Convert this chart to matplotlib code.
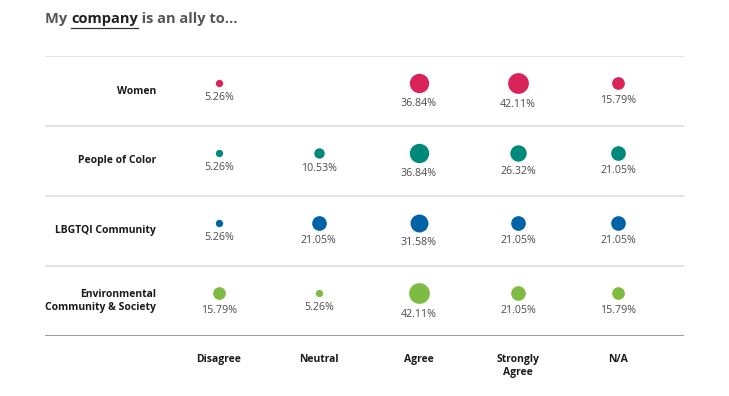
import numpy as np
import matplotlib
matplotlib.use("Agg")
import matplotlib.pyplot as plt

plt.rcParams['font.family'] = ['Open Sans', 'DejaVu Sans']

groups = ['Women', 'People of Color', 'LBGTQI Community', 'Environmental\nCommunity & Society']
answers = ['Disagree', 'Neutral', 'Agree', 'Strongly\nAgree', 'N/A']
women = [5.26, np.nan, 36.84, 42.11, 15.79]
people_of_color = [5.26, 10.53, 36.84, 26.32, 21.05]
lgbtqi = [5.26, 21.05, 31.58, 21.05, 21.05]
environment = [15.79, 5.26, 42.11, 21.05, 15.79]
colors = ['#d9245a', '#00897b', '#0063a8', '#7dbb42']

rows = [women, people_of_color, lgbtqi, environment]

fig = plt.figure(figsize=(7.29, 3.96), dpi=100)
W, H = 729, 396
ax = fig.add_axes([45 / W, (H - 336) / H, (684 - 45) / W, (336 - 56) / H])
ax.set_xlim((45 - 219) / 99.75, (684 - 219) / 99.75)
ax.set_ylim(3.5, -0.5)
ax.axis('off')

# row separators
for yb in [-0.5, 0.5, 1.5, 2.5]:
    ax.axhline(yb, color='#e0e0e0', lw=1.3)
ax.axhline(3.5, color='#959595', lw=2)

for i, (vals, c) in enumerate(zip(rows, colors)):
    ax.text(-0.63, i, groups[i], ha='right', va='center', fontsize=7.5,
            fontweight='bold', color='#1a1a1a', linespacing=1.3)
    for j, v in enumerate(vals):
        if np.isnan(v):
            continue
        d = 2.3 * np.sqrt(v)
        yc = i - 0.12
        ax.plot(j, yc, 'o', ms=d, color=c, mec='none')
        ax.annotate(f'{v:.2f}%', (j, yc), xytext=(0, -(d / 2 + 4)),
                    textcoords='offset points', ha='center', va='top',
                    fontsize=7.7, color='#4a4a4a')

for j, a in enumerate(answers):
    ax.text(j, 3.76, a, ha='center', va='top', fontsize=7.5, fontweight='bold',
            color='#1a1a1a', linespacing=1.25, clip_on=False)

# title with underlined word
fig.canvas.draw()
r = fig.canvas.get_renderer()
x0 = 45 / W
ty = 1 - 19.5 / H
parts = [('My ', '#555555', False), ('company', '#222222', True), (' is an ally to...', '#555555', False)]
x = x0
for s, col, ul in parts:
    t = fig.text(x, ty, s, fontsize=10.5, fontweight='bold', color=col, ha='left', va='center')
    bb = t.get_window_extent(renderer=r)
    w = bb.width / W
    if ul:
        yl = ty - 8 / H
        fig.add_artist(plt.Line2D([x, x + w], [yl, yl], color='#333333', lw=0.9, transform=fig.transFigure))
    x += w

fig.savefig('out.png', dpi=100)
